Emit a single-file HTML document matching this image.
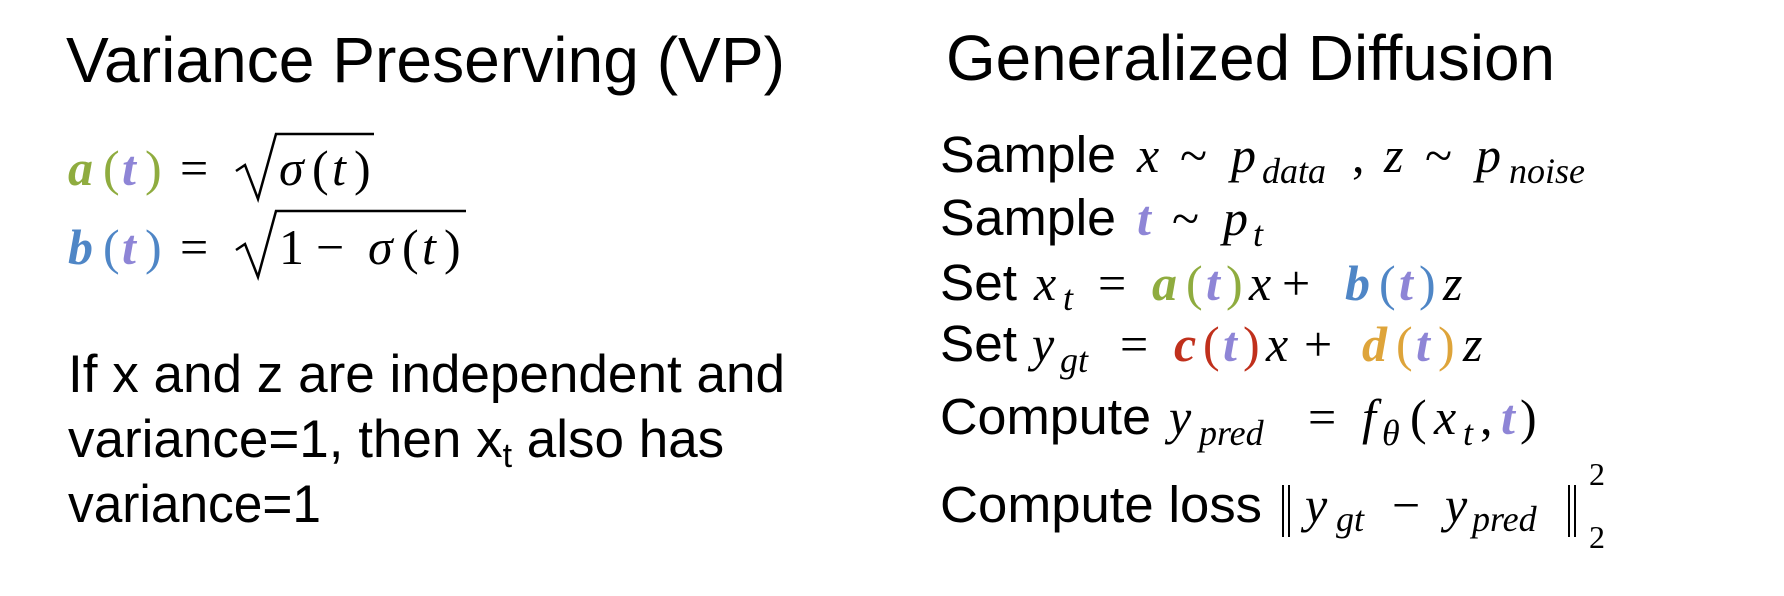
<!DOCTYPE html>
<html><head><meta charset="utf-8"><style>html,body{margin:0;padding:0;background:#fff}svg{display:block}</style></head>
<body>
<svg width="1784" height="596" viewBox="0 0 1784 596" xmlns="http://www.w3.org/2000/svg" fill="#000">
<style>
.s{font-family:"Liberation Sans",Arial,sans-serif}
.m{font-family:"Liberation Serif",serif;font-style:italic}
.r{font-family:"Liberation Serif",serif}
.b{font-weight:bold}
</style>
<g class="s">
<text x="66" y="82" font-size="64" textLength="719" lengthAdjust="spacingAndGlyphs">Variance Preserving (VP)</text>
<text x="946" y="80" font-size="64" textLength="609" lengthAdjust="spacingAndGlyphs">Generalized Diffusion</text>
<text x="68" y="392" font-size="53" textLength="717" lengthAdjust="spacingAndGlyphs">If x and z are independent and</text>
<text x="68" y="457" font-size="53">variance=1, then x<tspan font-size="34" dy="10">t</tspan><tspan dy="-10"> also has</tspan></text>
<text x="68" y="522" font-size="53" textLength="253" lengthAdjust="spacingAndGlyphs">variance=1</text>
</g>
<g font-size="50">
<text class="m b" x="68" y="185" fill="#8fac3f">a</text>
<text class="r" x="103" y="185" fill="#8fac3f">(</text>
<text class="m b" x="122" y="185" fill="#8e85d6">t</text>
<text class="r" x="145" y="185" fill="#8fac3f">)</text>
<text class="r" x="180" y="185">=</text>
<text class="m" x="279" y="185">σ</text>
<text class="r" x="312" y="185">(</text>
<text class="m" x="332" y="185">t</text>
<text class="r" x="354" y="185">)</text>
<path d="M236 171 L245 165 L258 199 L276 134 L374 134" fill="none" stroke="#000" stroke-width="2.5"/>

<text class="m b" x="68" y="264" fill="#4f86c6">b</text>
<text class="r" x="103" y="264" fill="#4f86c6">(</text>
<text class="m b" x="122" y="264" fill="#8e85d6">t</text>
<text class="r" x="145" y="264" fill="#4f86c6">)</text>
<text class="r" x="180" y="264">=</text>
<text class="r" x="279" y="264">1</text>
<text class="r" x="316" y="264">−</text>
<text class="m" x="368" y="264">σ</text>
<text class="r" x="402" y="264">(</text>
<text class="m" x="422" y="264">t</text>
<text class="r" x="444" y="264">)</text>
<path d="M236 250 L245 244 L258 277 L276 211 L466 211" fill="none" stroke="#000" stroke-width="2.5"/>
</g>
<g class="s" font-size="51">
<text x="940" y="172" textLength="176" lengthAdjust="spacingAndGlyphs">Sample</text>
<text x="940" y="235" textLength="176" lengthAdjust="spacingAndGlyphs">Sample</text>
<text x="940" y="300" textLength="77" lengthAdjust="spacingAndGlyphs">Set</text>
<text x="940" y="361" textLength="77" lengthAdjust="spacingAndGlyphs">Set</text>
<text x="940" y="434" textLength="211" lengthAdjust="spacingAndGlyphs">Compute</text>
<text x="940" y="522" textLength="322" lengthAdjust="spacingAndGlyphs">Compute loss</text>
</g>
<g font-size="50">
<text class="m" x="1137" y="172">x</text>
<text class="r" x="1180" y="172">~</text>
<text class="m" x="1231" y="172">p</text>
<text class="m" x="1262" y="183" font-size="36">data</text>
<text class="r" x="1352" y="172">,</text>
<text class="m" x="1384" y="172">z</text>
<text class="r" x="1425" y="172">~</text>
<text class="m" x="1476" y="172">p</text>
<text class="m" x="1509" y="183" font-size="36">noise</text>

<text class="m b" x="1137" y="235" fill="#8e85d6">t</text>
<text class="r" x="1172" y="235">~</text>
<text class="m" x="1223" y="235">p</text>
<text class="m" x="1253" y="246" font-size="36">t</text>

<text class="m" x="1034" y="300">x</text>
<text class="m" x="1063" y="310" font-size="36">t</text>
<text class="r" x="1098" y="300">=</text>
<text class="m b" x="1152" y="300" fill="#8fac3f">a</text>
<text class="r" x="1186" y="300" fill="#8fac3f">(</text>
<text class="m b" x="1206" y="300" fill="#8e85d6">t</text>
<text class="r" x="1226" y="300" fill="#8fac3f">)</text>
<text class="m" x="1249" y="300">x</text>
<text class="r" x="1282" y="300">+</text>
<text class="m b" x="1345" y="300" fill="#4f86c6">b</text>
<text class="r" x="1379" y="300" fill="#4f86c6">(</text>
<text class="m b" x="1399" y="300" fill="#8e85d6">t</text>
<text class="r" x="1419" y="300" fill="#4f86c6">)</text>
<text class="m" x="1443" y="300">z</text>

<text class="m" x="1032" y="361">y</text>
<text class="m" x="1060" y="372" font-size="36">gt</text>
<text class="r" x="1120" y="361">=</text>
<text class="m b" x="1174" y="361" fill="#c0301c">c</text>
<text class="r" x="1203" y="361" fill="#c0301c">(</text>
<text class="m b" x="1223" y="361" fill="#8e85d6">t</text>
<text class="r" x="1243" y="361" fill="#c0301c">)</text>
<text class="m" x="1266" y="361">x</text>
<text class="r" x="1304" y="361">+</text>
<text class="m b" x="1362" y="361" fill="#dea43a">d</text>
<text class="r" x="1396" y="361" fill="#dea43a">(</text>
<text class="m b" x="1416" y="361" fill="#8e85d6">t</text>
<text class="r" x="1438" y="361" fill="#dea43a">)</text>
<text class="m" x="1463" y="361">z</text>

<text class="m" x="1169" y="434">y</text>
<text class="m" x="1199" y="445" font-size="36">pred</text>
<text class="r" x="1308" y="434">=</text>
<text class="m" x="1362" y="434">f</text>
<text class="m" x="1382" y="445" font-size="36">θ</text>
<text class="r" x="1410" y="434">(</text>
<text class="m" x="1434" y="434">x</text>
<text class="m" x="1463" y="445" font-size="36">t</text>
<text class="r" x="1480" y="434">,</text>
<text class="m b" x="1501" y="434" fill="#8e85d6">t</text>
<text class="r" x="1520" y="434">)</text>

<path d="M1283 485 L1283 537 M1289 485 L1289 537 M1569 485 L1569 537 M1575 485 L1575 537" stroke="#000" stroke-width="2"/>
<text class="m" x="1305" y="522">y</text>
<text class="m" x="1336" y="531" font-size="36">gt</text>
<text class="r" x="1392" y="522">−</text>
<text class="m" x="1445" y="522">y</text>
<text class="m" x="1472" y="531" font-size="36">pred</text>
<text class="r" x="1589" y="485" font-size="32">2</text>
<text class="r" x="1589" y="548" font-size="32">2</text>
</g>
</svg>
</body></html>
